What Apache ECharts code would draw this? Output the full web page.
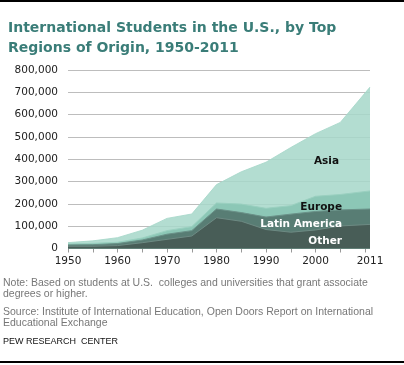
<!DOCTYPE html>
<html>
<head>
<meta charset="utf-8">
<script src="https://cdn.jsdelivr.net/npm/echarts@6/dist/echarts.min.js"></script>
<style>html,body{margin:0;padding:0;background:#fff}#c{width:404px;height:365px}</style>
</head>
<body>
<div id="c"></div>
<script>
// Data (thousands of students)
var years = [1950, 1955, 1960, 1965, 1970, 1975, 1980, 1985, 1990, 1995, 2000, 2005, 2011];
var other = [10, 10, 13, 26, 41, 56, 138, 122, 85, 73, 83, 101, 108];
var latinAmerica = [6, 7, 9, 12, 23, 24, 39, 39, 56, 81, 83, 72, 69];
var europe = [4, 6, 6, 9, 16, 18, 27, 38, 39, 38, 68, 69, 81];
var asia = [6.4, 11.2, 20.5, 35, 55, 56.6, 82.3, 144.8, 206.9, 260.6, 280.7, 323, 465.3];
var xLabelValues = [1950, 1960, 1970, 1980, 1990, 2000, 2011];
var xTickValues = [1950, 1955, 1960, 1965, 1970, 1975, 1980, 1985, 1990, 1995, 2000, 2005, 2010];
var titleText = 'International Students in the U.S., by Top\nRegions of Origin, 1950-2011';
var noteText = 'Note: Based on students at U.S.  colleges and universities that grant associate\ndegrees or higher.';
var sourceText = 'Source: Institute of International Education, Open Doors Report on International\nEducational Exchange';
var creditText = 'PEW RESEARCH  CENTER';

// Stacked (cumulative) tops, bottom layer first
var layers = [other, latinAmerica, europe, asia];
var cumulative = [];
var running = years.map(function () { return 0; });
layers.forEach(function (arr) {
  running = running.map(function (v, i) { return v + arr[i]; });
  cumulative.push(running.slice());
});
function pairs(arr) {
  return years.map(function (y, i) { return [y, arr[i] * 1000]; });
}
function areaSeries(name, arr, fill, line, z) {
  return {
    name: name, type: 'line', data: pairs(arr), z: z,
    symbol: 'none', smooth: false,
    lineStyle: { width: 1, color: line },
    areaStyle: { color: fill, opacity: 1 },
    emphasis: { disabled: true },
    silent: true
  };
}
var chart = echarts.init(document.getElementById('c'));
var font = 'DejaVu Sans, Verdana, sans-serif';
var small = '10.5px "Liberation Sans", Arial, sans-serif';
chart.setOption({
  animation: false,
  backgroundColor: '#fff',
  title: {
    text: titleText, left: 3, top: 13,
    textStyle: { color: '#3a7d78', fontSize: 14, fontWeight: 'bold', fontFamily: font, lineHeight: 20 }
  },
  grid: { left: 68, right: 34, top: 70, bottom: 116.5 },
  xAxis: {
    type: 'value', min: 1950, max: 2011,
    axisLine: { show: false },
    axisTick: { show: true, length: 4, lineStyle: { color: '#999' }, customValues: xTickValues },
    axisLabel: { customValues: xLabelValues, color: '#222', fontSize: 10.5, fontFamily: font, margin: 7,
      formatter: function (v) { return String(v); } },
    splitLine: { show: false }
  },
  yAxis: {
    type: 'value', min: 0, max: 800000, interval: 100000,
    axisLine: { show: false }, axisTick: { show: false },
    axisLabel: { color: '#222', fontSize: 10.5, fontFamily: font, margin: 10,
      formatter: function (v) { return v.toLocaleString('en-US'); } },
    splitLine: { lineStyle: { color: '#bdbdbd', width: 1 } }
  },
  series: [
    areaSeries('Asia', cumulative[3], 'rgba(167,215,201,0.86)', 'rgba(167,215,201,0.86)', 2),
    areaSeries('Europe', cumulative[2], '#8cc7b6', '#9ad0c0', 3),
    areaSeries('Latin America', cumulative[1], '#587d74', '#6a9188', 4),
    areaSeries('Other', cumulative[0], '#485d57', '#6d8a83', 5)
  ],
  graphic: [
    { type: 'rect', shape: { x: 0, y: 0, width: 404, height: 2 }, style: { fill: '#000' }, silent: true },
    { type: 'rect', shape: { x: 0, y: 361, width: 404, height: 2 }, style: { fill: '#000' }, silent: true },
    { type: 'text', right: 65, top: 156, z: 10, style: { text: 'Asia', fill: '#111', font: 'bold 10.5px ' + font } },
    { type: 'text', right: 62, top: 202, z: 10, style: { text: 'Europe', fill: '#111', font: 'bold 10.5px ' + font } },
    { type: 'text', right: 62, top: 219, z: 10, style: { text: 'Latin America', fill: '#fff', font: 'bold 10.5px ' + font } },
    { type: 'text', right: 62, top: 235.5, z: 10, style: { text: 'Other', fill: '#fff', font: 'bold 10.5px ' + font } },
    { type: 'text', left: 3, top: 278, style: { text: noteText, fill: '#777', font: small, lineHeight: 11 } },
    { type: 'text', left: 3, top: 307, style: { text: sourceText, fill: '#777', font: small, lineHeight: 11 } },
    { type: 'text', left: 3, top: 337, style: { text: creditText, fill: '#111', font: '9px "Liberation Sans", Arial, sans-serif' } }
  ]
});
</script>
</body>
</html>
